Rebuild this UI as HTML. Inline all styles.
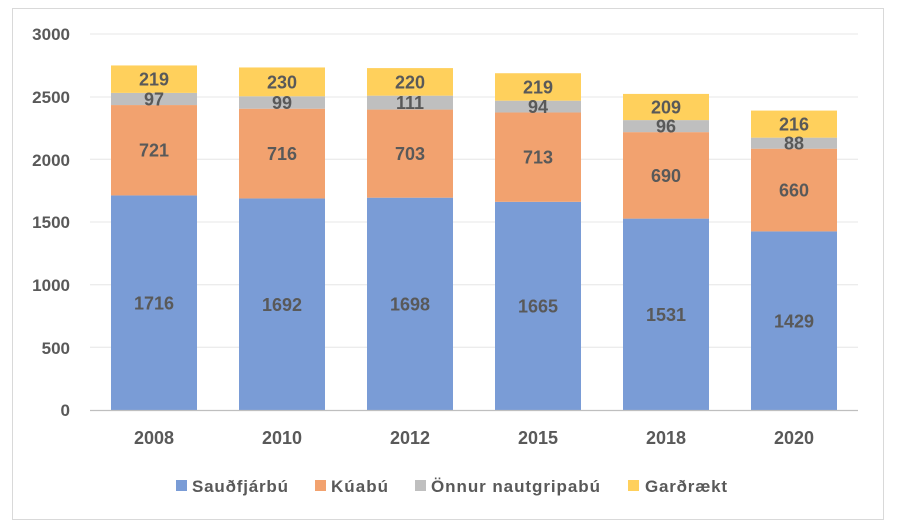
<!DOCTYPE html>
<html><head><meta charset="utf-8"><style>body{margin:0;background:#fff}svg{display:block}</style></head><body>
<svg width="900" height="528" xmlns="http://www.w3.org/2000/svg" font-family="Liberation Sans, sans-serif" font-weight="bold" fill="#595959">
<rect x="12.5" y="8.5" width="871" height="511" fill="#fff" stroke="#d9d9d9"/>
<g stroke="#ececec" stroke-width="1.3">
<line x1="90" x2="858" y1="34" y2="34"/><line x1="90" x2="858" y1="97" y2="97"/><line x1="90" x2="858" y1="159.3" y2="159.3"/><line x1="90" x2="858" y1="222" y2="222"/><line x1="90" x2="858" y1="284.7" y2="284.7"/><line x1="90" x2="858" y1="347.3" y2="347.3"/>
</g>
<g font-size="17" text-anchor="end">
<text x="70" y="40">3000</text><text x="70" y="103">2500</text><text x="70" y="166">2000</text><text x="70" y="228">1500</text><text x="70" y="291">1000</text><text x="70" y="354">500</text><text x="70" y="416">0</text>
</g>
<g>
<rect x="111" y="195.43" width="86" height="215.07" fill="#7a9cd6"/><rect x="111" y="105.06" width="86" height="90.37" fill="#f2a26f"/><rect x="111" y="92.9" width="86" height="12.16" fill="#bfbfbf"/><rect x="111" y="65.45" width="86" height="27.45" fill="#ffd05c"/>
<rect x="239" y="198.44" width="86" height="212.06" fill="#7a9cd6"/><rect x="239" y="108.7" width="86" height="89.74" fill="#f2a26f"/><rect x="239" y="96.29" width="86" height="12.41" fill="#bfbfbf"/><rect x="239" y="67.46" width="86" height="28.83" fill="#ffd05c"/>
<rect x="367" y="197.68" width="86" height="212.82" fill="#7a9cd6"/><rect x="367" y="109.57" width="86" height="88.11" fill="#f2a26f"/><rect x="367" y="95.66" width="86" height="13.91" fill="#bfbfbf"/><rect x="367" y="68.09" width="86" height="27.57" fill="#ffd05c"/>
<rect x="495" y="201.82" width="86" height="208.68" fill="#7a9cd6"/><rect x="495" y="112.46" width="86" height="89.36" fill="#f2a26f"/><rect x="495" y="100.68" width="86" height="11.78" fill="#bfbfbf"/><rect x="495" y="73.23" width="86" height="27.45" fill="#ffd05c"/>
<rect x="623" y="218.61" width="86" height="191.89" fill="#7a9cd6"/><rect x="623" y="132.13" width="86" height="86.48" fill="#f2a26f"/><rect x="623" y="120.1" width="86" height="12.03" fill="#bfbfbf"/><rect x="623" y="93.91" width="86" height="26.19" fill="#ffd05c"/>
<rect x="751" y="231.4" width="86" height="179.1" fill="#7a9cd6"/><rect x="751" y="148.68" width="86" height="82.72" fill="#f2a26f"/><rect x="751" y="137.65" width="86" height="11.03" fill="#bfbfbf"/><rect x="751" y="110.58" width="86" height="27.07" fill="#ffd05c"/>
</g>
<g font-size="18" text-anchor="middle">
<text x="154" y="309.5">1716</text><text x="154" y="156.5">721</text><text x="154" y="105.5">97</text><text x="154" y="85.5">219</text>
<text x="282" y="311">1692</text><text x="282" y="160">716</text><text x="282" y="109">99</text><text x="282" y="88.5">230</text>
<text x="410" y="310.5">1698</text><text x="410" y="160">703</text><text x="410" y="109">111</text><text x="410" y="88.5">220</text>
<text x="538" y="312.5">1665</text><text x="538" y="163.5">713</text><text x="538" y="113">94</text><text x="538" y="93.5">219</text>
<text x="666" y="321">1531</text><text x="666" y="182">690</text><text x="666" y="132.5">96</text><text x="666" y="113.5">209</text>
<text x="794" y="327.5">1429</text><text x="794" y="196.5">660</text><text x="794" y="149.5">88</text><text x="794" y="130.5">216</text>
</g>
<line x1="90" x2="858" y1="410.5" y2="410.5" stroke="#bfbfbf" stroke-width="1.3"/>
<g font-size="18" text-anchor="middle">
<text x="154" y="444">2008</text><text x="282" y="444">2010</text><text x="410" y="444">2012</text><text x="538" y="444">2015</text><text x="666" y="444">2018</text><text x="794" y="444">2020</text>
</g>
<g font-size="17">
<rect x="176" y="480" width="11" height="11" fill="#7a9cd6"/><text x="192" y="492" textLength="96">Sauðfjárbú</text>
<rect x="315" y="480" width="11" height="11" fill="#f2a26f"/><text x="331" y="492" textLength="57">Kúabú</text>
<rect x="415" y="480" width="11" height="11" fill="#bfbfbf"/><text x="431" y="492" textLength="169">Önnur nautgripabú</text>
<rect x="628" y="480" width="11" height="11" fill="#ffd05c"/><text x="645" y="492" textLength="82">Garðrækt</text>
</g>
</svg>
</body></html>
